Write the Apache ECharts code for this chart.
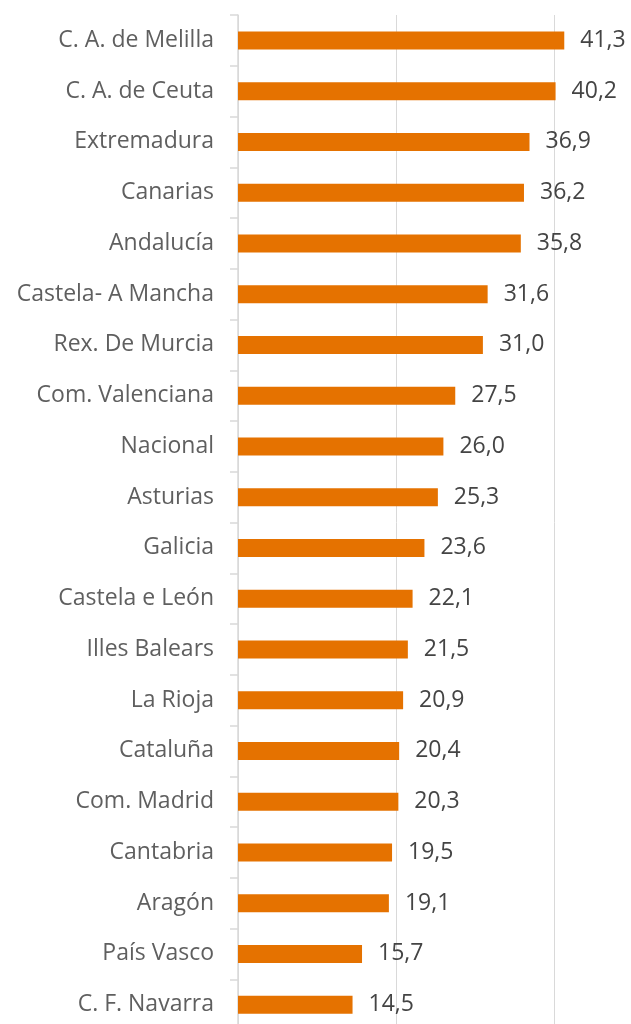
<!DOCTYPE html>
<html>
<head>
<meta charset="utf-8">
<script src="https://cdn.jsdelivr.net/npm/echarts@6/dist/echarts.min.js"></script>
<style>
  html, body { margin: 0; padding: 0; background: #fff; overflow: hidden; }
  #chart { width: 640px; height: 1040px; }
</style>
</head>
<body>
<div id="chart"></div>
<script>
// comunidades, de arriba abajo
const categories = [
  "C. A. de Melilla", "C. A. de Ceuta", "Extremadura", "Canarias", "Andalucía",
  "Castela- A Mancha", "Rex. De Murcia", "Com. Valenciana", "Nacional", "Asturias",
  "Galicia", "Castela e León", "Illes Balears", "La Rioja", "Cataluña",
  "Com. Madrid", "Cantabria", "Aragón", "País Vasco", "C. F. Navarra"
];
const values = [
  41.3, 40.2, 36.9, 36.2, 35.8,
  31.6, 31.0, 27.5, 26.0, 25.3,
  23.6, 22.1, 21.5, 20.9, 20.4,
  20.3, 19.5, 19.1, 15.7, 14.5
];

let myChart = echarts.init(document.getElementById("chart"));
let font = "'Open Sans', Lato, sans-serif";

let option = {
  animation: false,
  grid: {
    left: 238,
    right: 7,
    top: 15,
    bottom: 10
  },
  xAxis: {
    type: "value",
    min: 0,
    max: 50,
    interval: 20,
    axisLabel: { show: false },
    axisTick: { show: false },
    axisLine: { show: false },
    splitLine: {
      show: true,
      lineStyle: { color: "#d9d9d9", width: 1 }
    }
  },
  yAxis: {
    type: "category",
    inverse: true,
    data: categories,
    axisLine: {
      show: true,
      lineStyle: { color: "#d9d9d9", width: 1.5 }
    },
    axisTick: {
      show: true,
      length: 8,
      lineStyle: { color: "#d9d9d9", width: 1.5 }
    },
    axisLabel: {
      margin: 24,
      color: "#5f5f5f",
      fontSize: 23,
      fontFamily: font
    }
  },
  series: [
    {
      type: "bar",
      data: values,
      barWidth: 18,
      itemStyle: { color: "#e57200" },
      label: {
        show: true,
        position: "right",
        distance: 16,
        color: "#444444",
        fontSize: 23,
        fontFamily: font,
        formatter: (p) => p.value.toFixed(1).replace(".", ",")
      }
    }
  ]
};
myChart.setOption(option, true);
</script>
</body>
</html>
